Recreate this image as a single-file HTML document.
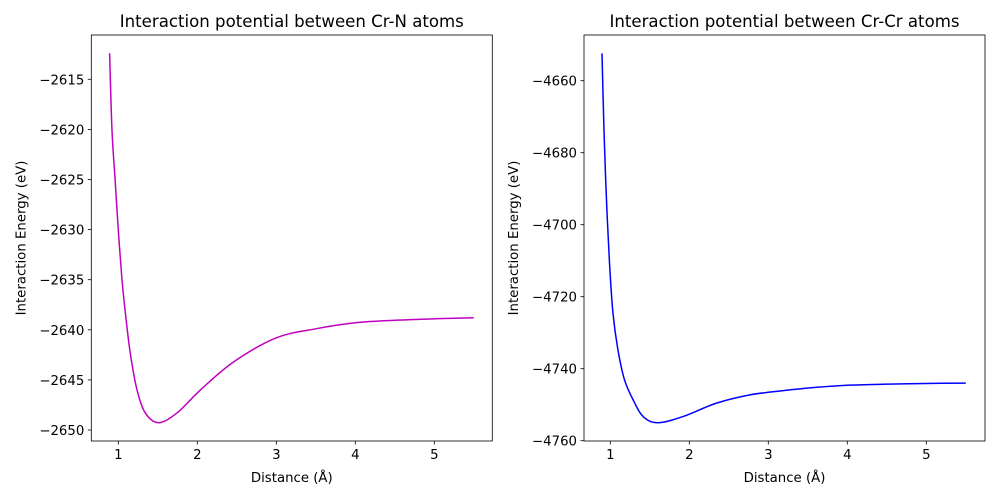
<!DOCTYPE html>
<html><head><meta charset="utf-8"><style>
body{margin:0;background:#fff}
svg{display:block;font-family:"DejaVu Sans","Liberation Sans",sans-serif}
</style></head><body>
<svg id="fig" width="1000" height="500" viewBox="0 0 1000 500"></svg>
<script>
const crnX=[0.89,0.92,0.96,1.0,1.047,1.09,1.152,1.237,1.342,1.51,1.743,2.04,2.46,3.0,3.5,4.0,4.5,5.0,5.5];
const crnY=[-2612.4,-2620.06,-2625.05,-2630.04,-2635.03,-2638.35,-2642.35,-2646.0,-2648.3,-2649.27,-2648.3,-2646.0,-2643.2,-2640.8,-2639.9,-2639.3,-2639.05,-2638.9,-2638.8];
const crcrX=[0.895,0.92,0.95,0.99,1.034,1.097,1.18,1.29,1.416,1.6,1.92,2.34,2.76,3.19,3.6,4.0,4.5,5.0,5.5];
const crcrY=[-4652.4,-4673.7,-4692.2,-4710.7,-4724.6,-4734.8,-4743.1,-4748.7,-4753.3,-4755.0,-4753.3,-4749.6,-4747.3,-4746.1,-4745.2,-4744.6,-4744.3,-4744.1,-4744.0];
const xTicks=[1,2,3,4,5];
const crnYTicks=[-2615,-2620,-2625,-2630,-2635,-2640,-2645,-2650];
const crcrYTicks=[-4660,-4680,-4700,-4720,-4740,-4760];
const NS='http://www.w3.org/2000/svg';
const svg=document.getElementById('fig');
function mk(t,a,p){const e=document.createElementNS(NS,t);for(const k in a)e.setAttribute(k,a[k]);(p||svg).appendChild(e);return e;}
function smooth(P){
  let d='M'+P[0][0].toFixed(2)+','+P[0][1].toFixed(2);
  for(let i=0;i<P.length-1;i++){
    const p0=P[Math.max(i-1,0)],p1=P[i],p2=P[i+1],p3=P[Math.min(i+2,P.length-1)];
    const c1=[p1[0]+(p2[0]-p0[0])/6,p1[1]+(p2[1]-p0[1])/6];
    const c2=[p2[0]-(p3[0]-p1[0])/6,p2[1]-(p3[1]-p1[1])/6];
    d+=' C'+c1.map(v=>v.toFixed(2)).join(',')+' '+c2.map(v=>v.toFixed(2)).join(',')+' '+p2[0].toFixed(2)+','+p2[1].toFixed(2);
  }
  return d;
}
function panel(o){
  const g=mk('g',{});
  
  
  const L=o.left,R=o.left+401,T=35,B=441;
  const sx=v=>o.x1px+(v-1)*79;
  const sy=v=>o.y0px+(o.y0-v)*o.ppu;
  const P=o.xs.map((x,i)=>[sx(x),sy(o.ys[i])]);
  const line=mk('path',{d:smooth(P),fill:'none',stroke:o.color,'stroke-width':1.5,'stroke-linejoin':'round'},g);
  
  
  const box=mk('rect',{x:L,y:T,width:R-L,height:B-T,fill:'none',stroke:'#000','stroke-width':0.8},g);
  
  
  xTicks.forEach(t=>{
    const x=sx(t);
    mk('line',{x1:x,x2:x,y1:B,y2:B+3.5,stroke:'#000','stroke-width':0.8},g);
    const tx=mk('text',{x:x,y:B+18,'font-size':13.3,'text-anchor':'middle',fill:'#000'},g);
    tx.textContent=t;
    
    
  });
  o.yt.forEach(t=>{
    const y=sy(t);
    mk('line',{x1:L-3.5,x2:L,y1:y,y2:y,stroke:'#000','stroke-width':0.8},g);
    const tx=mk('text',{x:L-7,y:y+5,'font-size':13.3,'text-anchor':'end',fill:'#000'},g);
    tx.textContent='\u2212'+Math.abs(t);
    
    
  });
  const ti=mk('text',{x:(L+R)/2,y:27,'font-size':16.6,'text-anchor':'middle',fill:'#000'},g);
  ti.textContent=o.title;
  
  
  const xl=mk('text',{x:(L+R)/2,y:482,'font-size':13.3,'text-anchor':'middle',fill:'#000'},g);
  xl.textContent='Distance (Å)';
  
  
  const yx=o.left-66,yy=(T+B)/2;
  const yl=mk('text',{x:yx,y:yy,'font-size':13.3,'text-anchor':'middle',fill:'#000',transform:`rotate(-90 ${yx} ${yy})`},g);
  yl.textContent='Interaction Energy (eV)';
  
  
}
panel({name:'cr-n-panel',left:91.3,x1px:118.3,y0:-2615,y0px:79.3,ppu:10.02,xs:crnX,ys:crnY,yt:crnYTicks,color:'#bf00bf',title:'Interaction potential between Cr-N atoms'});
panel({name:'cr-cr-panel',left:584,x1px:610.3,y0:-4660,y0px:80.7,ppu:3.6,xs:crcrX,ys:crcrY,yt:crcrYTicks,color:'#0000ff',title:'Interaction potential between Cr-Cr atoms'});
</script>
</body></html>
